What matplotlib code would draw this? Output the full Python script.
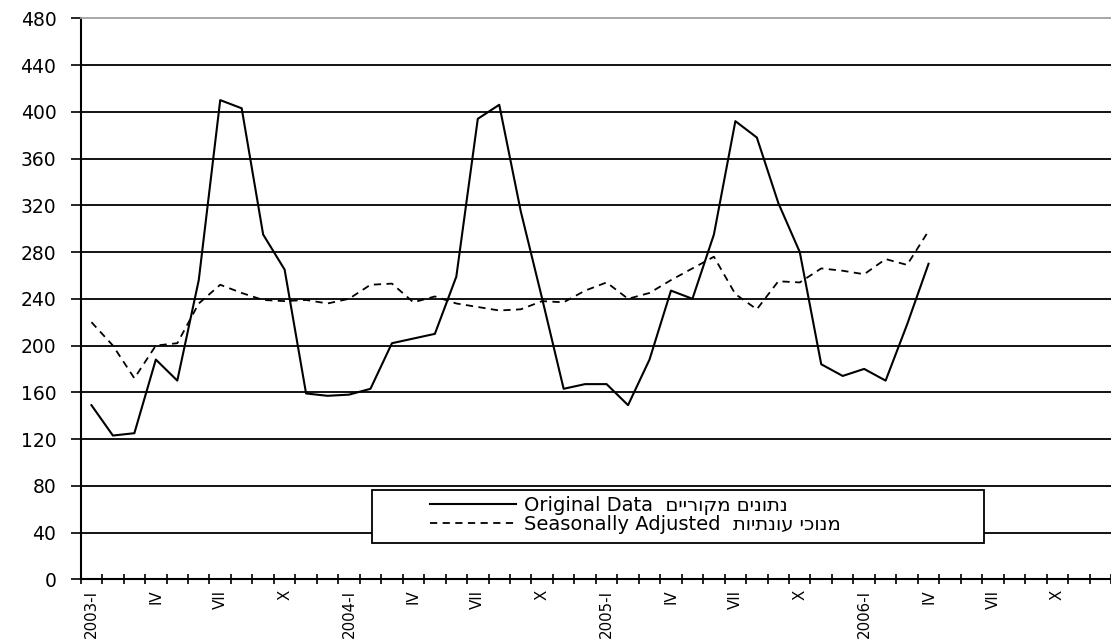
import matplotlib
matplotlib.use("Agg")
import matplotlib.pyplot as plt
from matplotlib.lines import Line2D
from matplotlib.patches import Rectangle

plt.rcParams['font.family'] = ['DejaVu Sans']

years = [2003, 2004, 2005, 2006]
months = ["I", "II", "III", "IV", "V", "VI", "VII", "VIII", "IX", "X", "XI", "XII"]
shown_months = ["I", "IV", "VII", "X"]

# monthly values, 2003-I .. 2006-IV
original = [149, 123, 125, 188, 170, 256, 410, 403, 295, 265, 159, 157,
            158, 163, 202, 206, 210, 259, 394, 406, 315, 240, 163, 167,
            167, 149, 188, 247, 240, 295, 392, 378, 322, 280, 184, 174,
            180, 170, 218, 270]
adjusted = [220, 200, 172, 200, 202, 236, 252, 245, 239, 238, 239, 236,
            240, 252, 253, 237, 242, 236, 233, 230, 231, 238, 237, 247,
            254, 240, 245, 256, 266, 276, 244, 231, 255, 254, 266, 264,
            261, 274, 269, 298]

y_ticks = list(range(0, 481, 40))

label_orig = "Original Data  " + "נתונים מקוריים"[::-1]
label_adj = "Seasonally Adjusted  " + "מנוכי עונתיות"[::-1]

categories = []
for y in years:
    for m in months:
        categories.append("{}-{}".format(y, m) if m == "I" else m)

W, H = 1111, 639
fig = plt.figure(figsize=(W / 100, H / 100), dpi=100)
left, right, top, bottom = 80.7, 1111, 18.3, 579.3
ax = fig.add_axes([left / W, 1 - bottom / H, (right - left) / W, (bottom - top) / H])

for v in y_ticks[1:-1]:
    ax.axhline(v, color='black', lw=1.3, zorder=1)

xs = list(range(len(original)))
ax.plot(xs, original, color='black', lw=1.5, zorder=3)
ax.plot(xs, adjusted, color='black', lw=1.3, linestyle=(0, (4, 3)), zorder=3)

ax.set_xlim(-0.5, len(categories) - 0.5)
ax.set_ylim(0, 480)
ax.set_yticks(y_ticks)
ax.tick_params(axis='y', direction='out', length=7, width=1.2, pad=10.5, labelsize=13.5)

major = [i for i, c in enumerate(categories) if c.split("-")[-1] in shown_months]
ax.set_xticks(major)
ax.set_xticklabels([categories[i] for i in major], rotation=90, va='top', ha='center')
ax.set_xticks([i - 0.5 for i in range(len(categories) + 1)], minor=True)
ax.tick_params(axis='x', which='major', length=0, pad=7.5, labelsize=10.8)
ax.tick_params(axis='x', which='minor', direction='inout', length=7, width=1.2)

ax.spines['right'].set_visible(False)
ax.spines['top'].set_color('#a0a0a0')
ax.spines['top'].set_linewidth(1.3)
ax.spines['left'].set_linewidth(1.5)
ax.spines['bottom'].set_linewidth(1.5)

# legend box
fig.add_artist(Rectangle((372 / W, 1 - 543 / H), (984 - 372) / W, 53 / H,
                         transform=fig.transFigure, facecolor='white',
                         edgecolor='black', lw=1.3, zorder=4))
handles = [Line2D([], [], color='black', lw=1.5),
           Line2D([], [], color='black', lw=1.3, linestyle=(0, (4, 3)))]
leg = fig.legend(handles, [label_orig, label_adj], loc='upper left',
                 bbox_to_anchor=(430 / W, 1 - 496 / H), frameon=False,
                 borderpad=0, borderaxespad=0, handlelength=4.4,
                 handletextpad=0.45, labelspacing=0.0, fontsize=14)
leg.set_zorder(6)

fig.savefig("out.png", dpi=100)
